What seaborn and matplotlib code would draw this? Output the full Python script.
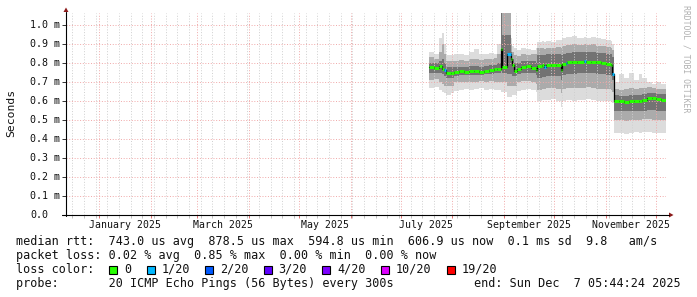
import matplotlib
matplotlib.use("Agg")
import matplotlib.pyplot as plt
import matplotlib.dates as mdates
import matplotlib.transforms as mtransforms
from matplotlib.lines import Line2D
from matplotlib.patches import Rectangle, Polygon
import pandas as pd
import seaborn as sns

# ---------------- data ----------------
bin_start = ["2025-07-18", "2025-07-21", "2025-07-24", "2025-07-26", "2025-07-27", "2025-07-28",
             "2025-07-31", "2025-08-02", "2025-08-05", "2025-08-08", "2025-08-11", "2025-08-14",
             "2025-08-17", "2025-08-20", "2025-08-23", "2025-08-26", "2025-08-28", "2025-08-30",
             "2025-08-31", "2025-09-03", "2025-09-05", "2025-09-06", "2025-09-07", "2025-09-09",
             "2025-09-11", "2025-09-14", "2025-09-17", "2025-09-20", "2025-09-21", "2025-09-24",
             "2025-09-25", "2025-09-26", "2025-09-29", "2025-10-02", "2025-10-05", "2025-10-06",
             "2025-10-08", "2025-10-09", "2025-10-12", "2025-10-15", "2025-10-19", "2025-10-20",
             "2025-10-23", "2025-10-26", "2025-10-29", "2025-11-01", "2025-11-04", "2025-11-05",
             "2025-11-06", "2025-11-09", "2025-11-12", "2025-11-15", "2025-11-18", "2025-11-21",
             "2025-11-23", "2025-11-26", "2025-11-29", "2025-12-01", "2025-12-04"]
series_end = "2025-12-07 05:44:24"
view_start = "2024-12-12 05:44:24"

# median rtt in ms
median_ms = [0.777, 0.775, 0.782, 0.768, 0.762, 0.748, 0.745, 0.755, 0.757, 0.754, 0.758, 0.757,
             0.755, 0.760, 0.763, 0.766, 0.770, 0.876, 0.780, 0.848, 0.822, 0.790, 0.757, 0.768,
             0.780, 0.782, 0.776, 0.762, 0.785, 0.788, 0.777, 0.790, 0.790, 0.792, 0.765, 0.795,
             0.800, 0.804, 0.805, 0.806, 0.810, 0.807, 0.806, 0.804, 0.800, 0.795, 0.788, 0.742,
             0.600, 0.598, 0.597, 0.600, 0.598, 0.602, 0.603, 0.615, 0.614, 0.609, 0.604]
# lost pings out of 20
loss_count = [0, 0, 0, 0, 1, 0, 0, 0, 0, 0, 0, 0,
              0, 0, 0, 0, 0, 0, 0, 1, 0, 0, 0, 0,
              0, 0, 0, 0, 0, 0, 1, 0, 0, 0, 0, 0,
              1, 0, 0, 0, 1, 0, 0, 0, 0, 0, 0, 1,
              0, 0, 0, 0, 0, 0, 0, 0, 0, 0, 0]
# smoke envelopes (ms): outer, middle, inner bands
smoke_lo = [0.67, 0.675, 0.66, 0.65, 0.64, 0.63, 0.64, 0.655, 0.66, 0.665, 0.66, 0.665,
            0.67, 0.66, 0.665, 0.66, 0.66, 0.65, 0.65, 0.62, 0.62, 0.63, 0.63, 0.655,
            0.66, 0.665, 0.66, 0.645, 0.60, 0.605, 0.605, 0.605, 0.61, 0.60, 0.57, 0.60,
            0.605, 0.605, 0.60, 0.605, 0.605, 0.61, 0.605, 0.60, 0.60, 0.60, 0.60, 0.59,
            0.43, 0.43, 0.425, 0.43, 0.435, 0.43, 0.435, 0.435, 0.43, 0.43, 0.43]
smoke_mlo = [0.71, 0.715, 0.70, 0.69, 0.68, 0.68, 0.68, 0.70, 0.70, 0.70, 0.70, 0.70,
             0.705, 0.70, 0.705, 0.70, 0.70, 0.70, 0.70, 0.68, 0.68, 0.68, 0.68, 0.70,
             0.705, 0.705, 0.70, 0.69, 0.66, 0.665, 0.665, 0.67, 0.67, 0.665, 0.64, 0.665,
             0.67, 0.67, 0.67, 0.67, 0.67, 0.675, 0.67, 0.665, 0.665, 0.665, 0.66, 0.65,
             0.50, 0.50, 0.495, 0.50, 0.50, 0.50, 0.505, 0.505, 0.50, 0.50, 0.50]
smoke_ilo = [0.75, 0.75, 0.75, 0.74, 0.73, 0.72, 0.72, 0.73, 0.735, 0.735, 0.735, 0.735,
             0.735, 0.74, 0.74, 0.745, 0.745, 0.76, 0.75, 0.74, 0.74, 0.73, 0.73, 0.74,
             0.745, 0.75, 0.745, 0.735, 0.72, 0.725, 0.725, 0.73, 0.73, 0.73, 0.71, 0.735,
             0.74, 0.74, 0.74, 0.745, 0.745, 0.745, 0.745, 0.74, 0.74, 0.735, 0.73, 0.71,
             0.55, 0.55, 0.545, 0.55, 0.55, 0.55, 0.55, 0.555, 0.555, 0.55, 0.55]
smoke_ihi = [0.80, 0.80, 0.81, 0.82, 0.80, 0.78, 0.78, 0.78, 0.78, 0.78, 0.785, 0.785,
             0.78, 0.785, 0.79, 0.79, 0.80, 1.10, 0.95, 0.95, 0.86, 0.82, 0.80, 0.80,
             0.81, 0.81, 0.81, 0.80, 0.84, 0.84, 0.84, 0.845, 0.845, 0.85, 0.84, 0.85,
             0.855, 0.855, 0.86, 0.86, 0.86, 0.86, 0.86, 0.855, 0.855, 0.85, 0.845, 0.83,
             0.63, 0.625, 0.625, 0.63, 0.63, 0.63, 0.635, 0.64, 0.64, 0.635, 0.635]
smoke_mhi = [0.83, 0.82, 0.86, 0.90, 0.85, 0.81, 0.81, 0.81, 0.815, 0.81, 0.82, 0.82,
             0.815, 0.82, 0.82, 0.825, 0.85, 1.10, 1.10, 1.10, 0.90, 0.86, 0.84, 0.835,
             0.845, 0.84, 0.845, 0.845, 0.88, 0.88, 0.875, 0.88, 0.88, 0.885, 0.88, 0.89,
             0.895, 0.895, 0.90, 0.895, 0.90, 0.895, 0.90, 0.89, 0.89, 0.885, 0.88, 0.87,
             0.665, 0.66, 0.665, 0.67, 0.665, 0.67, 0.67, 0.675, 0.67, 0.665, 0.665]
smoke_hi = [0.86, 0.85, 0.93, 0.96, 0.90, 0.84, 0.84, 0.845, 0.85, 0.84, 0.86, 0.875,
            0.85, 0.85, 0.855, 0.85, 0.90, 1.10, 1.10, 1.10, 0.93, 0.89, 0.88, 0.87,
            0.88, 0.875, 0.87, 0.88, 0.91, 0.915, 0.91, 0.915, 0.91, 0.92, 0.92, 0.93,
            0.935, 0.935, 0.94, 0.93, 0.935, 0.93, 0.935, 0.93, 0.925, 0.92, 0.915, 0.90,
            0.70, 0.74, 0.72, 0.745, 0.71, 0.74, 0.72, 0.70, 0.69, 0.70, 0.69]

y_ticks = [0.0, 0.1, 0.2, 0.3, 0.4, 0.5, 0.6, 0.7, 0.8, 0.9, 1.0]
y_tick_labels = ["0.0", "0.1 m", "0.2 m", "0.3 m", "0.4 m", "0.5 m", "0.6 m", "0.7 m",
                 "0.8 m", "0.9 m", "1.0 m"]
label_months = ["2025-01-01", "2025-03-01", "2025-05-01", "2025-07-01", "2025-09-01", "2025-11-01"]
x_tick_labels = ["January 2025", "March 2025", "May 2025", "July 2025",
                 "September 2025", "November 2025"]
y_axis_title = "Seconds"

rtt_stats = ["743.0 us avg", "878.5 us max", "594.8 us min", "606.9 us now", "0.1 ms sd", "9.8   am/s"]
loss_stats = ["0.02 % avg", "0.85 % max", "0.00 % min", "0.00 % now"]
loss_labels = ["0", "1/20", "2/20", "3/20", "4/20", "10/20", "19/20"]
loss_values = [0, 1, 2, 3, 4, 10, 19]
loss_colors = ["#26ff00", "#00b8ff", "#0059ff", "#5e00ff", "#7e00ff", "#dd00ff", "#ff0000"]
probe_text = "20 ICMP Echo Pings (56 Bytes) every 300s"
end_text = "end: Sun Dec  7 05:44:24 2025"
watermark = "RRDTOOL / TOBI OETIKER"

# ---------------- figure ----------------
sns.set_theme(style="white")
plt.rcParams["font.family"] = ["DejaVu Sans Mono"]
W, H = 697, 297
fig = plt.figure(figsize=(W / 100, H / 100), dpi=100, facecolor="white")
L, R, T, B = 66, 666, 13, 215
ax = fig.add_axes([L / W, 1 - B / H, (R - L) / W, (B - T) / H])
ax.set_facecolor("white")
for s in ax.spines.values():
    s.set_visible(False)


def fx(px):
    return px / W


def fy(py):
    return 1 - py / H


ymax = 1.0 * (B - T) / 190.0
x0 = mdates.date2num(pd.Timestamp(view_start))
x1 = mdates.date2num(pd.Timestamp(series_end))
ax.set_xlim(x0, x1)
ax.set_ylim(0, ymax)

edges = [mdates.date2num(pd.Timestamp(d)) for d in bin_start] + [x1]
starts = edges[:-1]
ends = edges[1:]


def ext(a):
    return list(a) + [a[-1]]


# smoke
ax.fill_between(edges, ext(smoke_lo), ext(smoke_hi), step="post", color="#dcdcdc", lw=0, zorder=1)
ax.fill_between(edges, ext(smoke_mlo), ext(smoke_mhi), step="post", color="#ababab", lw=0, zorder=1.2)
ax.fill_between(edges, ext(smoke_ilo), ext(smoke_ihi), step="post", color="#737373", lw=0, zorder=1.4)

# grid
month_starts = pd.date_range("2025-01-01", "2025-12-01", freq="MS")
weeks = pd.date_range(pd.Timestamp(view_start).normalize(), series_end, freq="W-MON")
ax.set_xticks([mdates.date2num(d) for d in month_starts])
ax.set_xticks([mdates.date2num(d) for d in weeks], minor=True)
ax.set_yticks(y_ticks)
ax.set_xticklabels([])
ax.set_yticklabels([])
ax.set_axisbelow(False)
ax.grid(False)
dots = (0, (1.0, 1.8))
ax.grid(which="minor", axis="x", color="#cfcfcf", lw=0.7, ls=dots)
ax.grid(which="major", axis="x", color="#f0a8a8", lw=0.7, ls=dots)
ax.grid(which="major", axis="y", color="#f0a8a8", lw=0.7, ls=dots)
ax.tick_params(axis="x", which="major", direction="out", length=2, width=0.7, color="#e07070", bottom=True)
ax.tick_params(axis="x", which="minor", direction="out", length=2, width=0.7, color="#c0c0c0", bottom=True)
ax.tick_params(axis="y", which="major", direction="out", length=3, width=0.7, color="#333333", left=True)

# median line
med_df = pd.DataFrame({"t": edges, "rtt": ext(median_ms)})
sns.lineplot(data=med_df, x="t", y="rtt", drawstyle="steps-post", color="black", lw=0.9,
             ax=ax, zorder=4, estimator=None)
cmap = dict(zip(loss_values, loss_colors))
ax.hlines(median_ms, starts, ends, colors=[cmap[c] for c in loss_count], lw=2.2, zorder=5)
ax.set_xlabel("")
ax.set_ylabel("")

# y tick labels
ytr = mtransforms.blended_transform_factory(fig.transFigure, ax.transData)
for v, lab in zip(y_ticks, y_tick_labels):
    ax.text(fx(30), v, lab, transform=ytr, ha="left", va="center", fontsize=7.2, color="#111111")

# x tick labels (centred in their month)
xtr = mtransforms.blended_transform_factory(ax.transData, fig.transFigure)
for m, lab in zip(label_months, x_tick_labels):
    a = pd.Timestamp(m)
    b = a + pd.offsets.MonthBegin(1)
    c = mdates.date2num(a + (b - a) / 2)
    ax.text(c, fy(228), lab, transform=xtr, ha="center", va="baseline", fontsize=7.1, color="#111111")

fig.text(fx(11), fy(113), y_axis_title, rotation=90, ha="center", va="center", fontsize=8.2, color="#111111")

# axes lines and arrows
fig.add_artist(Line2D([fx(L), fx(L)], [fy(B + 1), fy(12)], transform=fig.transFigure, color="black", lw=0.8))
fig.add_artist(Line2D([fx(62), fx(669)], [fy(B), fy(B)], transform=fig.transFigure, color="black", lw=0.8))
arrow_c = "#8b1a1a"
fig.add_artist(Polygon([[fx(L - 2.5), fy(12)], [fx(L + 2.5), fy(12)], [fx(L), fy(7.5)]],
                       closed=True, transform=fig.transFigure, color=arrow_c, lw=0))
fig.add_artist(Polygon([[fx(669), fy(B - 2.5)], [fx(669), fy(B + 2.5)], [fx(673.5), fy(B)]],
                       closed=True, transform=fig.transFigure, color=arrow_c, lw=0))

# watermark
fig.text(fx(686), fy(5), watermark, rotation=-90, ha="center", va="top", fontsize=5.9, color="#b0b0b0")

# legend / statistics
cw = 7.1
tx = 16
fs = 8.5
fig.text(fx(tx), fy(245), "median rtt:  " + "  ".join(rtt_stats), ha="left", va="baseline", fontsize=fs, color="#111111")
fig.text(fx(tx), fy(259), "packet loss: " + "  ".join(loss_stats), ha="left", va="baseline", fontsize=fs, color="#111111")
fig.text(fx(tx), fy(273), "loss color:", ha="left", va="baseline", fontsize=fs, color="#111111")
sq = tx + 13 * cw + 1
for lab, col in zip(loss_labels, loss_colors):
    fig.add_artist(Rectangle((fx(sq), fy(273.5)), 8 / W, 8 / H, transform=fig.transFigure,
                             facecolor=col, edgecolor="black", lw=0.8))
    lx = sq + 2.1 * cw
    fig.text(fx(lx), fy(273), lab, ha="left", va="baseline", fontsize=fs, color="#111111")
    sq = lx + len(lab) * cw + 2.15 * cw
fig.text(fx(tx), fy(287), "probe:       " + probe_text, ha="left", va="baseline", fontsize=fs, color="#111111")
fig.text(fx(681), fy(287), end_text, ha="right", va="baseline", fontsize=fs, color="#111111")

fig.savefig("out.png", dpi=100, facecolor="white")
